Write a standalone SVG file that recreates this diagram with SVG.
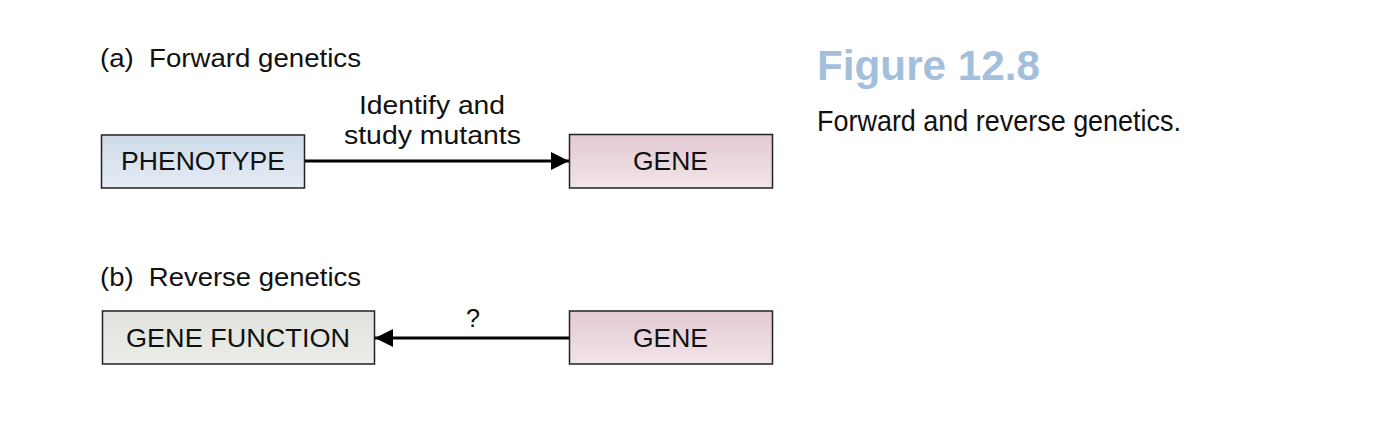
<svg xmlns="http://www.w3.org/2000/svg" width="1400" height="424" viewBox="0 0 1400 424">
<defs>
<linearGradient id="gBlue" x1="0" y1="0" x2="0" y2="1"><stop offset="0" stop-color="#cfdbe9"/><stop offset="1" stop-color="#e4ebf4"/></linearGradient>
<linearGradient id="gPink" x1="0" y1="0" x2="0" y2="1"><stop offset="0" stop-color="#e3c9d2"/><stop offset="1" stop-color="#f2e4e9"/></linearGradient>
<linearGradient id="gGrey" x1="0" y1="0" x2="0" y2="1"><stop offset="0" stop-color="#dfe2dd"/><stop offset="1" stop-color="#ebede9"/></linearGradient>
<marker id="arr" viewBox="0 0 10 10" refX="10" refY="5" markerWidth="18" markerHeight="18" markerUnits="userSpaceOnUse" orient="auto"><path d="M0,0 L10,5 L0,10 z" fill="#000"/></marker>
</defs>
<style>
text{font-family:"Liberation Sans",Arial,sans-serif;fill:#111}
.box{stroke:#222;stroke-width:1.5}
.lbl{font-size:25px}
.sec{font-size:25px}
.edge{stroke:#000;stroke-width:3;fill:none}
</style>
<rect width="1400" height="424" fill="#fff"/>
<text class="sec" x="100" y="67" textLength="261" lengthAdjust="spacingAndGlyphs" xml:space="preserve">(a)  Forward genetics</text>
<text class="sec" x="100" y="286" textLength="261" lengthAdjust="spacingAndGlyphs" xml:space="preserve">(b)  Reverse genetics</text>
<g id="connectors">
<line class="edge" x1="304" y1="161" x2="569" y2="161" marker-end="url(#arr)"/>
<text class="lbl" x="359" y="114" textLength="146" lengthAdjust="spacingAndGlyphs">Identify and</text>
<text class="lbl" x="344" y="144" textLength="177" lengthAdjust="spacingAndGlyphs">study mutants</text>
<line class="edge" x1="569" y1="338" x2="375" y2="338" marker-end="url(#arr)"/>
<text class="lbl" x="466" y="327" textLength="14" lengthAdjust="spacingAndGlyphs">?</text>
</g>
<g id="phenotype"><rect class="box" x="101.5" y="135" width="203" height="53" fill="url(#gBlue)"/><text class="lbl" x="121" y="170" textLength="164" lengthAdjust="spacingAndGlyphs">PHENOTYPE</text></g>
<g id="gene1"><rect class="box" x="569.5" y="134.5" width="203" height="53.5" fill="url(#gPink)"/><text class="lbl" x="633" y="170" textLength="75" lengthAdjust="spacingAndGlyphs">GENE</text></g>
<g id="genefunction"><rect class="box" x="102.5" y="311" width="272" height="53" fill="url(#gGrey)"/><text class="lbl" x="126" y="347" textLength="224" lengthAdjust="spacingAndGlyphs">GENE FUNCTION</text></g>
<g id="gene2"><rect class="box" x="569.5" y="311" width="203" height="53" fill="url(#gPink)"/><text class="lbl" x="633" y="347" textLength="75" lengthAdjust="spacingAndGlyphs">GENE</text></g>
<g id="caption">
<text x="817" y="80" font-size="42" font-weight="bold" style="fill:#a3bfdb" textLength="223" lengthAdjust="spacingAndGlyphs">Figure 12.8</text>
<text x="817" y="131" font-size="29" textLength="364" lengthAdjust="spacingAndGlyphs">Forward and reverse genetics.</text>
</g>
</svg>
